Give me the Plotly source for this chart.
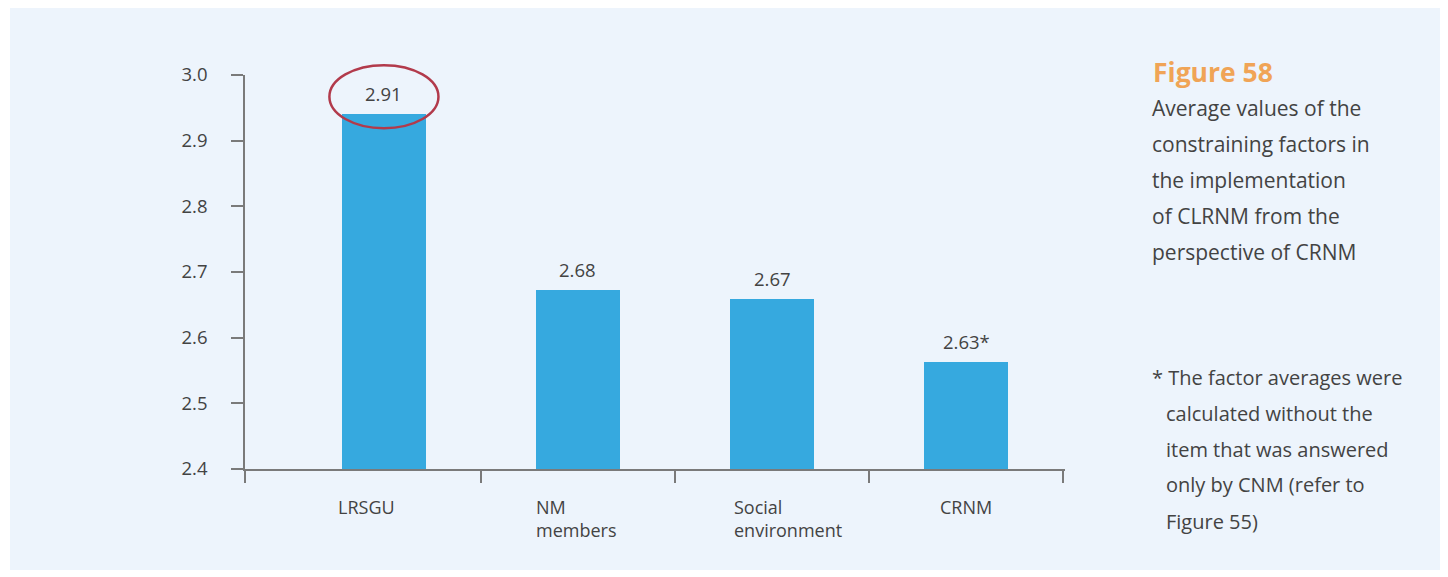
import plotly.graph_objects as go

# data
categories = ["LRSGU", "NM<br>members", "Social<br>environment", "CRNM"]
bar_values = [2.941, 2.673, 2.659, 2.563]
value_labels = ["2.91", "2.68", "2.67", "2.63*"]
y_ticks = [2.4, 2.5, 2.6, 2.7, 2.8, 2.9, 3.0]

caption_title = "Figure 58"
caption_lines = [
    "Average values of the",
    "constraining factors in",
    "the implementation",
    "of CLRNM from the",
    "perspective of CRNM",
]
note_lines = [
    "* The factor averages were",
    "calculated without the",
    "item that was answered",
    "only by CNM (refer to",
    "Figure 55)",
]

W, H = 1448, 577
OFF = 8  # page body margin
ML, MT = 245 - OFF, 75 - OFF
MR, MB = W - (1065 - OFF), H - (469 - OFF)
PW, PH = W - ML - MR, H - MT - MB

BG = "#EDF4FC"
BAR = "#36A9DF"
TXT = "#434343"
AXIS = "#7a7a7a"
FONT = "Open Sans"

BAR_W = 0.433
X_LO, X_HI = -0.716, 3.51
Y_LO, Y_HI = 2.4, 3.0


def px_x(p):
    # screen pixel -> paper x
    return (p - OFF - ML) / PW


def px_y(p):
    # screen pixel -> paper y
    return (H - MB - (p - OFF)) / PH


def dx(v):
    return (v - X_LO) / (X_HI - X_LO)


def dy(v):
    return (v - Y_LO) / (Y_HI - Y_LO)


xs = list(range(len(categories)))

fig = go.Figure()
fig.add_trace(go.Bar(
    x=xs, y=bar_values, width=BAR_W,
    marker=dict(color=BAR, line=dict(width=0)),
    hoverinfo="skip", showlegend=False,
))

annotations = []
# value labels above bars
for x, v, t in zip(xs, bar_values, value_labels):
    annotations.append(dict(
        x=x, y=v, xref="x", yref="y", text=t, showarrow=False,
        yanchor="bottom", yshift=6, font=dict(size=18.5, color=TXT, family=FONT),
    ))

# category labels under the axis: left-aligned to the bar, last one centred
label_anchor = ["left", "left", "left", "center"]
label_shift = [-6, -2, 2, 0]
for x, c, a, s in zip(xs, categories, label_anchor, label_shift):
    annotations.append(dict(
        x=x - BAR_W / 2 if a == "left" else x, y=px_y(493), xref="x", yref="paper",
        text=c, showarrow=False, align="left", xshift=s,
        xanchor=a, yanchor="top",
        font=dict(size=18, color=TXT, family=FONT),
    ))

# caption on the right
annotations.append(dict(
    x=px_x(1151), y=px_y(72), xref="paper", yref="paper", text="<b>" + caption_title + "</b>",
    showarrow=False, xanchor="left", yanchor="middle",
    font=dict(size=26.5, color="#F0A456", family=FONT),
))
for i, line in enumerate(caption_lines):
    annotations.append(dict(
        x=px_x(1150), y=px_y(108 + 36 * i), xref="paper", yref="paper", text=line,
        showarrow=False, xanchor="left", yanchor="middle",
        font=dict(size=21, color=TXT, family=FONT),
    ))
for i, line in enumerate(note_lines):
    annotations.append(dict(
        x=px_x(1150 if i == 0 else 1164), y=px_y(377 + 36 * i), xref="paper", yref="paper",
        text=line, showarrow=False, xanchor="left", yanchor="middle",
        font=dict(size=20, color=TXT, family=FONT),
    ))

# ellipse around the top value label (paper refs so it is not clipped)
ex, ey = xs[0], 2.967
shapes = [
    # light panel behind everything
    dict(type="rect", xref="paper", yref="paper", layer="below",
         x0=px_x(10), x1=px_x(1440), y0=px_y(570), y1=px_y(7),
         fillcolor=BG, line=dict(width=0)),
    dict(type="circle", xref="paper", yref="paper",
         x0=dx(ex - 0.281), x1=dx(ex + 0.281), y0=dy(ey - 0.048), y1=dy(ey + 0.048),
         line=dict(color="#B23A4B", width=2.5)),
]

fig.update_layout(
    width=W, height=H,
    margin=dict(l=ML, r=MR, t=MT, b=MB),
    paper_bgcolor="white", plot_bgcolor=BG,
    font=dict(family=FONT, color=TXT, size=18),
    bargap=0,
    annotations=annotations, shapes=shapes,
    xaxis=dict(
        range=[X_LO, X_HI], showgrid=False, zeroline=False,
        showline=True, linecolor=AXIS, linewidth=1.5,
        tickvals=[X_LO, 0.5, 1.5, 2.5, 3.5], showticklabels=False,
        ticks="outside", ticklen=12, tickcolor=AXIS, tickwidth=1.5,
    ),
    yaxis=dict(
        range=[Y_LO, Y_HI], showgrid=False, zeroline=False,
        showline=True, linecolor=AXIS, linewidth=1.5,
        tickvals=y_ticks, ticktext=[f"{v:.1f}" for v in y_ticks],
        ticks="outside", ticklen=12, tickcolor=AXIS, tickwidth=1.5,
        ticklabelstandoff=20, tickfont=dict(size=18.5, color=TXT, family=FONT),
    ),
)

fig.write_html("out.html")
